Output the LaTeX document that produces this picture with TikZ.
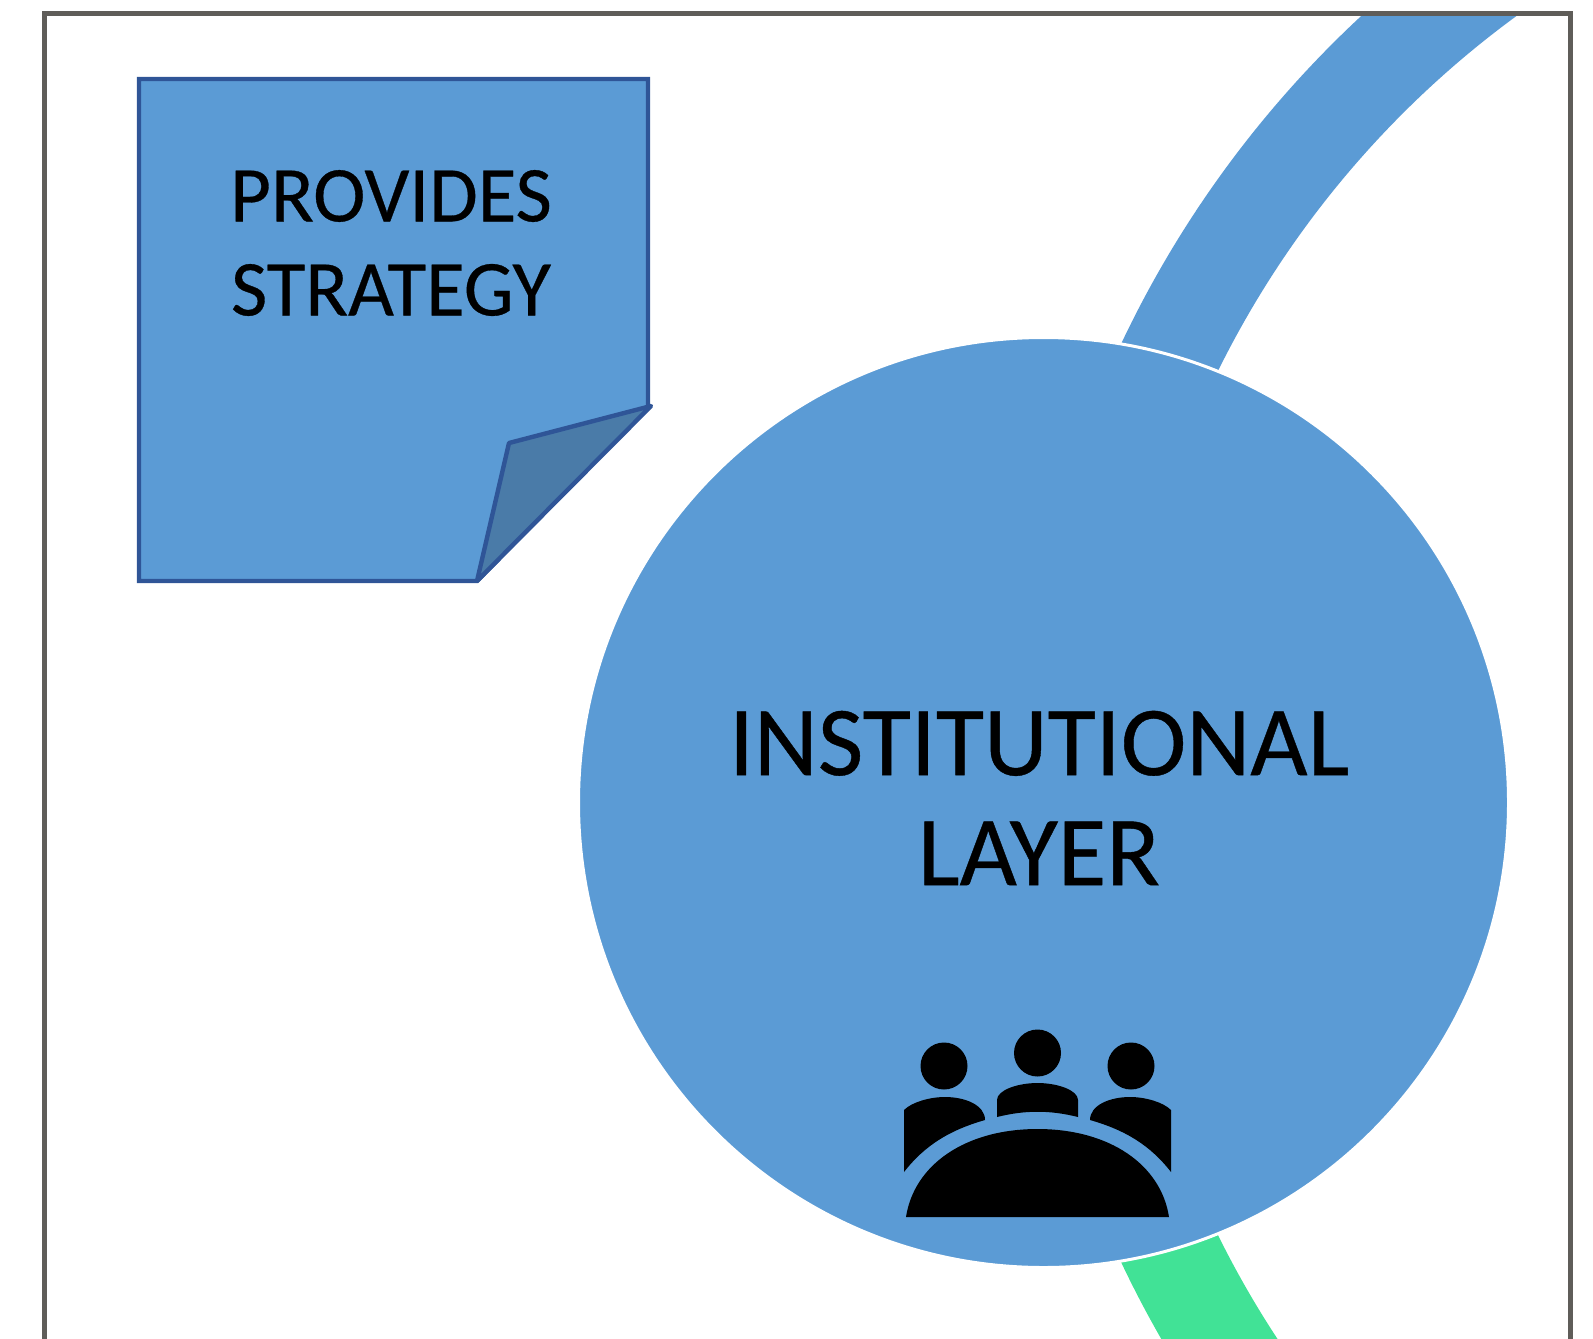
\documentclass[tikz,border=0pt]{standalone}
\usepackage{fontspec}
\setmainfont[FakeBold=0.4]{Carlito}
\definecolor{layerblue}{HTML}{5B9BD5}
\definecolor{layergreen}{HTML}{41E296}
\definecolor{noteline}{HTML}{2F5597}
\definecolor{notefold}{HTML}{4A7BA8}
\definecolor{framegray}{HTML}{5F5D59}

\begin{document}
\begin{tikzpicture}[x=0.5pt,y=-0.5pt,
                        band/.style={line width=49.5pt},
                        layer node/.style={circle, fill=layerblue, draw=white, line width=1.5pt, minimum size=465pt, inner sep=0pt},
                        note text/.style={align=center, font=\fontsize{39.5}{47}\selectfont},
                        layer text/.style={align=center, font=\fontsize{49.5}{55}\selectfont},
                        icon/.style={fill=black}]
        \useasboundingbox (0,0) rectangle (1593,1338);

        % ring behind the layer
        \coordinate (ring) at (2092,803);
        \begin{scope}
          \clip (46,14) rectangle (1570,1338);
          \draw[band,layerblue] (ring) ++(200:1024.5) arc[start angle=200,end angle=240,radius=1024.5];
          \draw[band,layergreen] (ring) ++(160:1024.5) arc[start angle=160,end angle=125,radius=1024.5];
        \end{scope}
        \draw[framegray,line width=2.5pt] (44.5,1345) -- (44.5,13.5) -- (1570.5,13.5) -- (1570.5,1345);

        % note
        \draw[noteline,fill=layerblue,line width=2.2pt,line join=miter] (139,79) -- (648,79) -- (648,407) -- (477,581) -- (139,581) -- cycle;
        \draw[noteline,fill=notefold,line width=2.2pt,line join=round] (477,581) -- (509,443) -- (651,406) -- cycle;
        \node[note text] (strategy) at (391,243) {PROVIDES\\STRATEGY};

        % layer
        \node[layer node] (inst) at (1043.5,802.5) {};
        \node[layer text] (instlabel) at (1039,798) {INSTITUTIONAL\\LAYER};

        % people round a table
        \foreach \px/\py in {944/1066,1037.5/1053,1131/1066}
          \fill[icon] (\px,\py) circle[radius=23.5];
        \fill[icon] (906,1217) .. controls (914,1165) and (965,1129) .. (1037.5,1129)
                    .. controls (1110,1129) and (1161,1165) .. (1169,1217) -- cycle;
        \fill[icon] (997,1117) -- (997,1100) .. controls (997,1090) and (1018,1083) .. (1037.5,1083)
                    .. controls (1057,1083) and (1078,1090) .. (1078,1100) -- (1078,1117)
                    .. controls (1050,1110) and (1025,1110) .. cycle;
        \fill[icon] (904,1172) -- (904,1110) .. controls (912,1102) and (930,1097) .. (945,1097)
                    .. controls (965,1097) and (985,1105) .. (985,1120)
                    .. controls (950,1130) and (925,1145) .. cycle;
        \fill[icon] (1171,1172) -- (1171,1110) .. controls (1163,1102) and (1145,1097) .. (1130,1097)
                    .. controls (1110,1097) and (1090,1105) .. (1090,1120)
                    .. controls (1125,1130) and (1150,1145) .. cycle;
    \end{tikzpicture}
\end{document}
